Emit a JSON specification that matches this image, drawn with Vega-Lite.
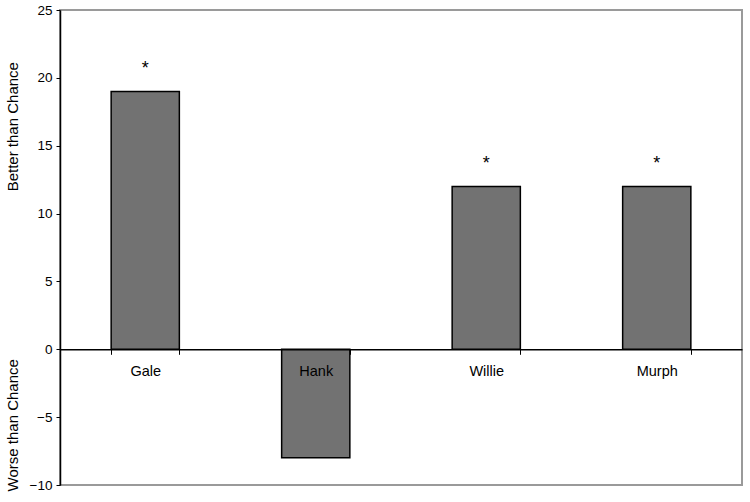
{
  "$schema": "https://vega.github.io/schema/vega-lite/v6.json",
  "width": 682,
  "height": 475,
  "autosize": {"type": "none"},
  "padding": {"left": 60, "top": 10, "right": 8, "bottom": 17},
  "background": "white",
  "config": {
    "font": "Liberation Sans",
    "view": {"stroke": "#9a9a9a", "strokeWidth": 2}
  },
  "data": {
    "values": [
      {"name": "Gale", "value": 19, "sig": true},
      {"name": "Hank", "value": -8, "sig": false},
      {"name": "Willie", "value": 12, "sig": true},
      {"name": "Murph", "value": 12, "sig": true}
    ]
  },
  "layer": [
    {
      "mark": {"type": "bar", "fill": "#727272", "stroke": "#000000", "strokeWidth": 1.5},
      "encoding": {
        "x": {
          "field": "name",
          "type": "nominal",
          "sort": null,
          "scale": {"paddingInner": 0.6, "paddingOuter": 0.3},
          "axis": {
            "title": null,
            "orient": "bottom",
            "offset": -135.7,
            "zindex": 1,
            "labelAngle": 0,
            "labelFontSize": 14.5,
            "labelColor": "#000000",
            "labelPadding": 10,
            "tickBand": "extent",
            "tickSize": 5,
            "tickColor": "#000000",
            "domainColor": "#000000",
            "domainWidth": 1.5,
            "grid": false
          }
        },
        "y": {
          "field": "value",
          "type": "quantitative",
          "scale": {"domain": [-10, 25], "nice": false, "zero": false},
          "axis": {
            "title": null,
            "values": [-10, -5, 0, 5, 10, 15, 20, 25],
            "grid": false,
            "labelFontSize": 13.5,
            "labelColor": "#000000",
            "labelPadding": 4,
            "tickSize": 4,
            "tickColor": "#000000",
            "domainColor": "#000000",
            "domainWidth": 1.5
          }
        }
      }
    },
    {
      "transform": [{"filter": "datum.sig"}],
      "mark": {"type": "text", "text": "*", "fontSize": 18, "baseline": "middle", "dy": -22, "color": "#000000"},
      "encoding": {
        "x": {"field": "name", "type": "nominal", "sort": null},
        "y": {"field": "value", "type": "quantitative"}
      }
    },
    {
      "data": {
        "values": [
          {"t": "Better than Chance", "v": 16.4},
          {"t": "Worse than Chance", "v": -5.6}
        ]
      },
      "mark": {"type": "text", "angle": 270, "fontSize": 15, "baseline": "middle", "align": "center", "clip": false, "x": -47, "color": "#000000"},
      "encoding": {
        "y": {"field": "v", "type": "quantitative"},
        "text": {"field": "t"}
      }
    }
  ]
}
